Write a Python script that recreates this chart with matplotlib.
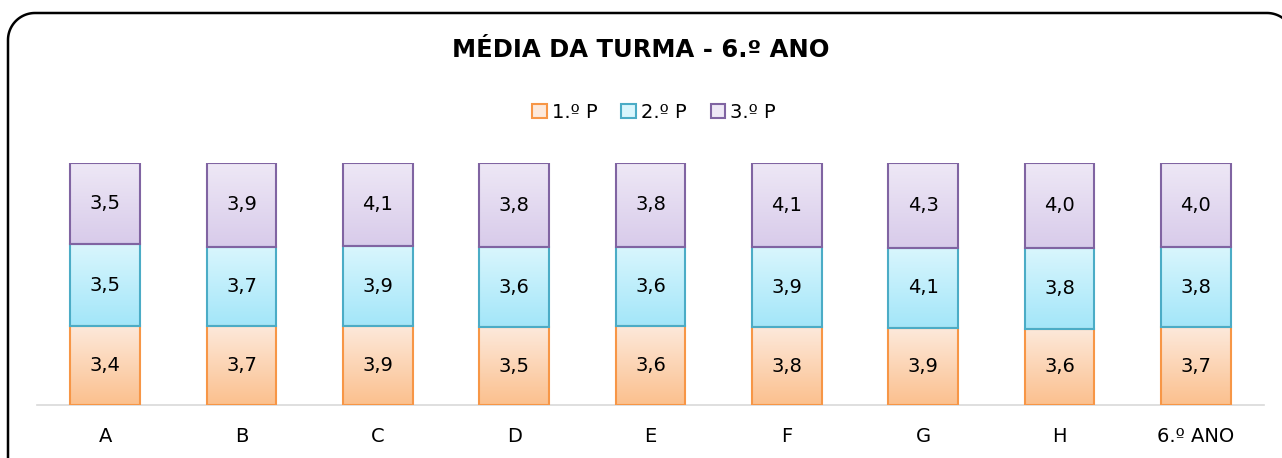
import numpy as np
import matplotlib.pyplot as plt
from matplotlib.patches import Patch
from matplotlib.lines import Line2D
from matplotlib.transforms import IdentityTransform
from matplotlib.colors import LinearSegmentedColormap

plt.rcParams['font.family'] = ['DejaVu Sans']

turmas = ['A', 'B', 'C', 'D', 'E', 'F', 'G', 'H', '6.º ANO']
p1 = [3.4, 3.7, 3.9, 3.5, 3.6, 3.8, 3.9, 3.6, 3.7]
p2 = [3.5, 3.7, 3.9, 3.6, 3.6, 3.9, 4.1, 3.8, 3.8]
p3 = [3.5, 3.9, 4.1, 3.8, 3.8, 4.1, 4.3, 4.0, 4.0]
series = ['1.º P', '2.º P', '3.º P']

# (top colour, bottom colour, edge colour)
estilos = [('#fde9db', '#fbc08e', '#f79646'),
           ('#d9f6fd', '#a3e6f9', '#4bacc6'),
           ('#eee8f6', '#d8cbea', '#8064a2')]

W, H = 1282, 458
fig = plt.figure(figsize=(W / 100, H / 100), dpi=100)

# rounded frame in pixel coords, cut off at right and bottom like the original
r = 27
left, right, top, bottom = 8, 1294, H - 13, -40
a1 = np.linspace(np.pi, np.pi / 2, 30)
a2 = np.linspace(np.pi / 2, 0, 30)
fx = np.concatenate([[left], left + r + r * np.cos(a1), right - r + r * np.cos(a2), [right]])
fy = np.concatenate([[bottom], top - r + r * np.sin(a1), top - r + r * np.sin(a2), [bottom]])
fig.add_artist(Line2D(fx, fy, transform=IdentityTransform(), color='black',
                      linewidth=1.8, solid_capstyle='round'))

ax = fig.add_axes([37 / W, (H - 405) / H, (1264 - 37) / W, (405 - 163) / H])

x = np.arange(len(turmas))
dados = np.array([p1, p2, p3])
total = dados.sum(axis=0)
frac = dados / total
largura = 0.51

base = np.zeros(len(turmas))
for i in range(3):
    top_c, bot_c, edge_c = estilos[i]
    cmap = LinearSegmentedColormap.from_list('g%d' % i, [bot_c, top_c])
    grad = np.linspace(0, 1, 100).reshape(-1, 1)
    for j in range(len(turmas)):
        x0 = x[j] - largura / 2
        ax.imshow(grad, cmap=cmap, origin='lower', aspect='auto',
                  extent=[x0, x0 + largura, base[j], base[j] + frac[i, j]],
                  zorder=2)
        ax.text(x[j], base[j] + frac[i, j] / 2, ('%.1f' % dados[i, j]).replace('.', ','),
                ha='center', va='center', fontsize=14, zorder=4)
    ax.bar(x, frac[i], largura, bottom=base, fill=False,
           edgecolor=edge_c, linewidth=1.5, zorder=3)
    base += frac[i]

ax.set_xlim(-0.5, len(turmas) - 0.5)
ax.set_ylim(0, 1)
ax.set_xticks(x)
ax.set_xticklabels(turmas, fontsize=14)
ax.tick_params(axis='x', length=0, pad=16)
ax.set_yticks([])
for s in ['top', 'right', 'left']:
    ax.spines[s].set_visible(False)
ax.spines['bottom'].set_color('#d9d9d9')
ax.spines['bottom'].set_linewidth(1.2)
ax.set_facecolor('none')

fig.text(0.5, 1 - 50 / H, 'MÉDIA DA TURMA - 6.º ANO', ha='center', va='center',
         fontsize=17.5, fontweight='bold')

handles = [Patch(facecolor=estilos[i][0], edgecolor=estilos[i][2], linewidth=1.5)
           for i in range(3)]
fig.legend(handles, series, loc='center', bbox_to_anchor=(654 / W, 1 - 112 / H),
           ncol=3, frameon=False, fontsize=14, handlelength=0.75, handleheight=0.75,
           handletextpad=0.25, columnspacing=1.25)

fig.savefig('out.png', dpi=100)
